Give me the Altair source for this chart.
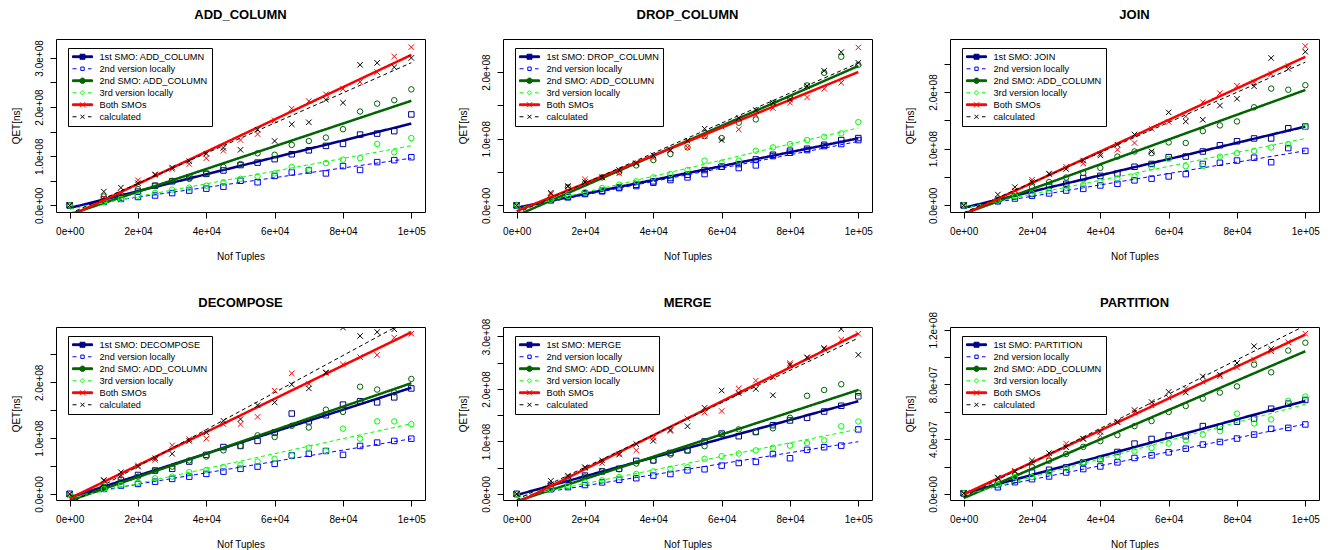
import altair as alt
import pandas as pd

FONT = "Liberation Sans"

X_TUPLES = [0, 10000, 15000, 20000, 25000, 30000, 35000, 40000, 45000, 50000,
            55000, 60000, 65000, 70000, 75000, 80000, 85000, 90000, 95000, 100000]

SERIES_TAIL = ["2nd version locally", "2nd SMO: ADD_COLUMN", "3rd version locally",
               "Both SMOs", "calculated"]

COLORS = ["#00008B", "#0000FF", "#006400", "#00FF00", "#FF0000", "#000000"]
LEGEND_FILLS = ["#00008B", "#FFFFFF", "#006400", "#FFFFFF", "#FF0000", "#FFFFFF"]

# values in units of 1e8 ns (PARTITION: 1e7 ns)
ADD_COLUMN_VALUES = [
    [0, 0.12, 0.15, 0.28, 0.40, 0.49, 0.57, 0.64, 0.71, 0.82, 0.87, 0.94, 1.04, 1.12, 1.21, 1.25, 1.44, 1.46, 1.51, 1.85],
    [0, 0.07, 0.13, 0.17, 0.20, 0.25, 0.30, 0.34, 0.38, 0.50, 0.47, 0.60, 0.67, 0.71, 0.65, 0.80, 0.72, 0.88, 0.92, 0.98],
    [0, 0.18, 0.22, 0.33, 0.40, 0.50, 0.54, 0.65, 0.78, 0.84, 1.06, 1.03, 1.23, 1.31, 1.38, 1.55, 1.91, 2.07, 2.14, 2.36],
    [0, 0.07, 0.13, 0.20, 0.25, 0.32, 0.36, 0.40, 0.47, 0.54, 0.59, 0.65, 0.78, 0.73, 0.86, 0.93, 0.96, 1.25, 1.08, 1.37],
    [0, 0.16, 0.25, 0.51, 0.62, 0.74, 0.84, 0.96, 1.11, 1.33, 1.45, 1.73, 1.97, 2.12, 2.26, 2.37, 2.51, 2.71, 3.03, 3.22],
    [0, 0.28, 0.36, 0.45, 0.63, 0.77, 0.90, 1.05, 1.17, 1.13, 1.54, 1.31, 1.65, 1.69, 2.15, 2.09, 2.86, 2.90, 2.81, 3.00],
]
DROP_COLUMN_VALUES = [
    [0, 0.085, 0.13, 0.18, 0.22, 0.27, 0.31, 0.36, 0.41, 0.46, 0.53, 0.58, 0.62, 0.69, 0.76, 0.82, 0.85, 0.91, 0.98, 1.01],
    [0, 0.075, 0.12, 0.17, 0.21, 0.26, 0.29, 0.34, 0.38, 0.42, 0.47, 0.58, 0.56, 0.60, 0.74, 0.79, 0.83, 0.89, 0.92, 0.98],
    [0, 0.12, 0.27, 0.33, 0.42, 0.50, 0.60, 0.68, 0.77, 0.87, 1.04, 1.01, 1.24, 1.29, 1.53, 1.61, 1.80, 1.99, 2.23, 2.11],
    [0, 0.085, 0.14, 0.20, 0.26, 0.31, 0.36, 0.42, 0.47, 0.53, 0.67, 0.64, 0.67, 0.82, 0.87, 0.92, 0.98, 1.03, 1.08, 1.25],
    [0, 0.17, 0.28, 0.39, 0.42, 0.48, 0.63, 0.71, 0.83, 0.87, 1.04, 1.18, 1.14, 1.36, 1.46, 1.54, 1.62, 1.75, 1.84, 2.37],
    [0, 0.19, 0.29, 0.35, 0.42, 0.53, 0.63, 0.75, 0.83, 0.97, 1.15, 0.98, 1.31, 1.43, 1.54, 1.59, 1.79, 2.02, 2.30, 2.14],
]
JOIN_VALUES = [
    [0, 0.08, 0.16, 0.20, 0.35, 0.38, 0.48, 0.52, 0.56, 0.68, 0.73, 0.85, 0.86, 0.95, 1.06, 1.13, 1.18, 1.18, 1.36, 1.39],
    [0, 0.07, 0.12, 0.17, 0.21, 0.26, 0.29, 0.35, 0.38, 0.44, 0.47, 0.51, 0.55, 0.73, 0.75, 0.79, 0.84, 0.76, 1.01, 0.96],
    [0, 0.10, 0.20, 0.32, 0.41, 0.49, 0.57, 0.66, 0.86, 0.95, 0.92, 1.11, 1.10, 1.31, 1.41, 1.48, 1.73, 2.06, 2.04, 2.12],
    [0, 0.08, 0.16, 0.21, 0.25, 0.31, 0.36, 0.42, 0.47, 0.51, 0.67, 0.82, 0.69, 0.69, 0.86, 0.92, 0.96, 1.02, 1.08, 1.38],
    [0, 0.11, 0.26, 0.45, 0.55, 0.68, 0.74, 0.91, 0.98, 1.10, 1.35, 1.47, 1.57, 1.82, 1.98, 2.11, 2.17, 2.32, 2.46, 2.81],
    [0, 0.19, 0.32, 0.41, 0.56, 0.64, 0.79, 0.88, 1.07, 1.25, 0.95, 1.64, 1.48, 1.51, 1.76, 1.88, 2.10, 2.60, 2.41, 2.71],
]
DECOMPOSE_VALUES = [
    [0, 0.11, 0.25, 0.34, 0.42, 0.45, 0.58, 0.70, 0.84, 0.86, 0.95, 1.10, 1.44, 1.30, 1.41, 1.60, 1.66, 1.64, 1.73, 1.89],
    [0, 0.09, 0.15, 0.18, 0.22, 0.27, 0.31, 0.36, 0.40, 0.45, 0.49, 0.54, 0.69, 0.72, 0.77, 0.70, 0.86, 0.92, 0.95, 0.99],
    [0, 0.13, 0.22, 0.31, 0.42, 0.49, 0.60, 0.67, 0.78, 0.86, 1.05, 1.02, 1.22, 1.19, 1.51, 1.47, 1.92, 1.87, 1.82, 2.06],
    [0, 0.09, 0.16, 0.20, 0.28, 0.31, 0.39, 0.43, 0.48, 0.52, 0.58, 0.63, 0.69, 0.83, 0.77, 1.17, 0.99, 1.30, 1.30, 1.25],
    [0, 0.24, 0.33, 0.51, 0.61, 0.87, 0.98, 0.99, 1.25, 1.25, 1.38, 1.85, 2.16, 1.97, 2.18, 2.32, 2.45, 2.49, 2.80, 2.87],
    [0, 0.25, 0.39, 0.49, 0.64, 0.72, 0.95, 1.10, 1.31, 1.34, 1.59, 1.64, 1.96, 1.89, 2.17, 2.98, 2.83, 2.90, 2.95, 3.10],
]
MERGE_VALUES = [
    [0, 0.16, 0.27, 0.35, 0.43, 0.48, 0.63, 0.64, 0.78, 0.83, 1.00, 1.15, 1.10, 1.18, 1.31, 1.40, 1.45, 1.57, 1.68, 1.86],
    [0, 0.09, 0.13, 0.17, 0.22, 0.27, 0.30, 0.35, 0.38, 0.45, 0.47, 0.54, 0.59, 0.61, 0.76, 0.68, 0.84, 0.89, 0.92, 1.23],
    [0, 0.11, 0.24, 0.33, 0.43, 0.47, 0.58, 0.63, 0.75, 0.83, 0.91, 1.13, 1.23, 1.18, 1.25, 1.45, 1.87, 1.98, 2.09, 1.93],
    [0, 0.09, 0.15, 0.22, 0.26, 0.32, 0.38, 0.43, 0.48, 0.51, 0.67, 0.72, 0.77, 0.83, 0.88, 0.92, 0.97, 1.02, 1.29, 1.38],
    [0, 0.19, 0.32, 0.49, 0.59, 0.77, 0.83, 1.07, 1.20, 1.44, 1.55, 1.58, 2.01, 2.16, 2.23, 2.49, 2.60, 2.76, 2.94, 3.05],
    [0, 0.25, 0.35, 0.51, 0.64, 0.75, 0.95, 1.01, 1.22, 1.29, 1.64, 1.97, 1.92, 2.00, 1.88, 2.46, 2.60, 2.78, 3.14, 2.65],
]
PARTITION_VALUES = [
    [0.05, 0.66, 1.03, 1.57, 1.77, 1.94, 2.31, 2.55, 3.07, 3.68, 4.02, 4.27, 4.22, 4.96, 4.91, 5.28, 5.50, 6.23, 6.60, 6.87],
    [0.05, 0.49, 0.86, 1.08, 1.28, 1.57, 1.82, 2.01, 2.31, 2.63, 2.82, 3.04, 3.31, 3.61, 3.80, 4.05, 4.34, 4.76, 4.83, 5.08],
    [0.05, 0.91, 1.40, 1.96, 2.43, 2.92, 3.44, 3.86, 4.30, 4.96, 5.33, 5.99, 6.43, 6.97, 7.41, 7.86, 9.45, 8.89, 10.48, 11.05],
    [0.05, 0.66, 1.23, 1.23, 1.57, 1.89, 2.31, 2.50, 2.75, 3.12, 3.36, 3.68, 3.93, 4.34, 4.59, 5.87, 5.15, 5.45, 6.80, 7.12],
    [0.05, 1.15, 1.69, 2.26, 2.75, 3.68, 4.05, 4.27, 5.28, 5.94, 6.48, 7.04, 7.71, 8.20, 8.59, 9.25, 9.82, 10.43, 11.09, 11.71],
    [0.05, 1.20, 1.64, 2.45, 2.99, 3.41, 4.02, 4.54, 5.25, 6.13, 6.72, 7.46, 7.41, 8.59, 8.71, 9.57, 10.80, 10.60, 12.40, 12.60],
]

X_TICKS = [0, 20000, 40000, 60000, 80000, 100000]
X_TICK_LABELS = ["0e+00", "2e+04", "4e+04", "6e+04", "8e+04", "1e+05"]

Y_TICKS_3 = [0, 50000000, 100000000, 150000000, 200000000, 250000000, 300000000]
Y_LABELS_3 = ["0.0e+00", "", "1.0e+08", "", "2.0e+08", "", "3.0e+08"]
Y_TICKS_2 = [0, 50000000, 100000000, 150000000, 200000000]
Y_LABELS_2 = ["0.0e+00", "", "1.0e+08", "", "2.0e+08"]
Y_TICKS_25 = [0, 50000000, 100000000, 150000000, 200000000, 250000000]
Y_LABELS_25 = ["0.0e+00", "", "1.0e+08", "", "2.0e+08", ""]
Y_TICKS_P = [0, 20000000, 40000000, 60000000, 80000000, 100000000, 120000000]
Y_LABELS_P = ["0.0e+00", "", "4.0e+07", "", "8.0e+07", "", "1.2e+08"]

# name, values, unit, y-domain (in units), ticks, tick labels
PANELS = [
    ("ADD_COLUMN", ADD_COLUMN_VALUES, 1e8, [-0.135, 3.385], Y_TICKS_3, Y_LABELS_3),
    ("DROP_COLUMN", DROP_COLUMN_VALUES, 1e8, [-0.0995, 2.497], Y_TICKS_2, Y_LABELS_2),
    ("JOIN", JOIN_VALUES, 1e8, [-0.118, 2.935], Y_TICKS_25, Y_LABELS_25),
    ("DECOMPOSE", DECOMPOSE_VALUES, 1e8, [-0.108, 2.99], Y_TICKS_25, Y_LABELS_25),
    ("MERGE", MERGE_VALUES, 1e8, [-0.115, 3.18], Y_TICKS_3, Y_LABELS_3),
    ("PARTITION", PARTITION_VALUES, 1e7, [-0.44, 12.2], Y_TICKS_P, Y_LABELS_P),
]

PLOT_W = 369
PLOT_H = 173
TITLE_GAP = 4
LABEL_HALF = 18.3  # half the length of a rotated y tick label such as "3.0e+08"

# legend glyphs: line + marker, drawn in the unit box [-1, 1]
THICK = "M-1,-0.09L1,-0.09L1,0.09L-1,0.09Z"
DASH = "M-1,0L-0.6,0M0.55,0L0.9,0"
LEGEND_PATHS = [
    THICK + "M-0.25,-0.25L0.25,-0.25L0.25,0.25L-0.25,0.25Z",
    DASH + "M-0.17,-0.17L0.17,-0.17L0.17,0.17L-0.17,0.17Z",
    THICK + "M0.27,0A0.27,0.27,0,1,1,-0.27,0A0.27,0.27,0,1,1,0.27,0Z",
    DASH + "M0.18,0A0.18,0.18,0,1,1,-0.18,0A0.18,0.18,0,1,1,0.18,0Z",
    THICK + "M-0.25,-0.25L0.25,0.25M-0.25,0.25L0.25,-0.25",
    DASH + "M-0.2,-0.2L0.2,0.2M-0.2,0.2L0.2,-0.2",
]
XMARK = "M-1,-1L1,1M-1,1L1,-1"
POINT_SHAPES = ["square", "square", "circle", "circle", XMARK, XMARK]
LINE_WIDTHS = [2.5, 1, 2.5, 1, 2.5, 1]
LINE_DASHES = [[1, 0], [4, 3], [1, 0], [4, 3], [1, 0], [4, 3]]


def label_expr(vals, labels):
    parts = [f"datum.value == {v} ? '{l}'" for v, l in zip(vals, labels) if l]
    return " : ".join(parts) + " : ''"


def make_panel(name, values, unit, ydom, yticks, ylabels):
    labels = [f"1st SMO: {name}"] + SERIES_TAIL
    rows = []
    for lab, vals in zip(labels, values):
        for xv, yv in zip(X_TUPLES, vals):
            rows.append({"series": lab, "x": xv, "y": yv * unit})
    df = pd.DataFrame(rows)

    lo, hi = ydom[0] * unit, ydom[1] * unit
    top_label = max(v for v, l in zip(yticks, ylabels) if l)
    overhang = max(0.0, LABEL_HALF - (hi - top_label) / (hi - lo) * PLOT_H)

    xenc = alt.X("x:Q", scale=alt.Scale(domain=[-4000, 104000], nice=False, zero=False),
                 axis=alt.Axis(values=X_TICKS, labelExpr=label_expr(X_TICKS, X_TICK_LABELS),
                               title="Nof Tuples"))
    yenc = alt.Y("y:Q", scale=alt.Scale(domain=[lo, hi], nice=False, zero=False),
                 axis=alt.Axis(values=yticks, labelExpr=label_expr(yticks, ylabels), title="QET[ns]"))

    legend = alt.Legend(
        title=None, orient="none", legendX=12, legendY=9, direction="vertical",
        symbolSize=400, clipHeight=9.5, rowPadding=2, padding=4,
        strokeColor="black", fillColor="white", labelFont=FONT, labelFontSize=9.2,
        labelColor="black", labelOffset=6.5, labelLimit=300, symbolStrokeWidth=1,
        symbolFillColor="white", symbolStrokeColor="black", symbolOpacity=1,
    )
    base = alt.Chart(df)
    layers = [
        base.transform_filter("false").mark_point(opacity=1).encode(
            x=xenc, y=yenc,
            stroke=alt.Stroke("series:N", scale=alt.Scale(domain=labels, range=COLORS), legend=legend),
            fill=alt.Fill("series:N", scale=alt.Scale(domain=labels, range=LEGEND_FILLS), legend=legend),
            shape=alt.Shape("series:N", scale=alt.Scale(domain=labels, range=LEGEND_PATHS), legend=legend),
        )
    ]
    for i, lab in enumerate(labels):
        sub = base.transform_filter(alt.datum.series == lab)
        layers.append(sub.mark_point(shape=POINT_SHAPES[i], size=30, filled=False, strokeWidth=1,
                                     opacity=1, color=COLORS[i], clip=True).encode(x=xenc, y=yenc))
        layers.append(sub.transform_regression("x", "y", extent=[0, 100000]).mark_line(
            color=COLORS[i], strokeWidth=LINE_WIDTHS[i], strokeDash=LINE_DASHES[i], clip=True
        ).encode(x=xenc, y=yenc))
    return alt.layer(*layers).properties(
        width=PLOT_W, height=PLOT_H,
        title=alt.TitleParams(name, font=FONT, fontSize=13, fontWeight="bold", color="black",
                              anchor="middle", frame="group", baseline="bottom",
                              offset=round(TITLE_GAP - overhang, 2)),
    )


panels = [make_panel(*p) for p in PANELS]

chart = alt.concat(*panels, columns=3, spacing={"row": 34, "column": 32}).resolve_scale(
    stroke="independent", fill="independent", shape="independent"
).resolve_legend(
    stroke="independent", fill="independent", shape="independent"
).properties(
    padding={"left": 2, "top": 0, "right": 0, "bottom": 0}
).configure(font=FONT).configure_axis(
    grid=False, domain=False, tickColor="black", tickSize=6, tickWidth=1,
    labelColor="black", labelFont=FONT, labelFontSize=10, titleFont=FONT, titleFontSize=10,
    titleFontWeight="normal", titleColor="black", labelFlush=False, labelOverlap=False,
).configure_axisX(labelPadding=8, titlePadding=15).configure_axisY(
    labelAngle=270, labelAlign="center", labelBaseline="bottom", labelPadding=5.5, titlePadding=13,
).configure_view(stroke="black", strokeWidth=1)

chart.save("out.html", embed_options={"renderer": "svg", "actions": False})
